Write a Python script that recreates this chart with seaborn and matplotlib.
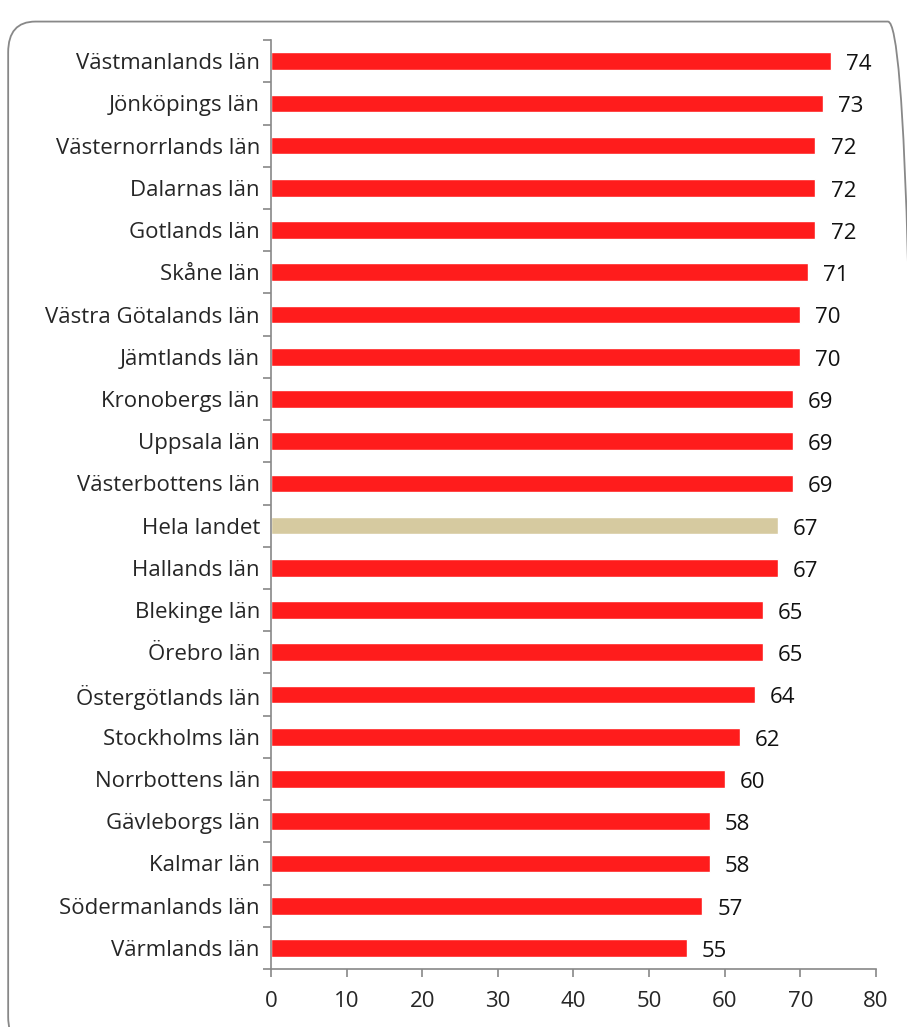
import matplotlib
matplotlib.use("Agg")
import matplotlib.pyplot as plt
import seaborn as sns
import pandas as pd
from matplotlib.patches import FancyBboxPatch

regions = ["Västmanlands län", "Jönköpings län", "Västernorrlands län", "Dalarnas län",
           "Gotlands län", "Skåne län", "Västra Götalands län", "Jämtlands län",
           "Kronobergs län", "Uppsala län", "Västerbottens län", "Hela landet",
           "Hallands län", "Blekinge län", "Örebro län", "Östergötlands län",
           "Stockholms län", "Norrbottens län", "Gävleborgs län", "Kalmar län",
           "Södermanlands län", "Värmlands län"]
values = [74, 73, 72, 72, 72, 71, 70, 70, 69, 69, 69, 67, 67, 65, 65, 64, 62, 60, 58, 58, 57, 55]

df = pd.DataFrame({"region": regions, "value": values})
df["group"] = ["riket" if r == "Hela landet" else "län" for r in regions]

sns.set_style("white")
plt.rcParams["font.family"] = ["Open Sans", "DejaVu Sans"]

fig = plt.figure(figsize=(9.07, 10.27), dpi=100)
ax = fig.add_axes([0.2988, 0.0565, 0.667, 0.9045])

sns.barplot(data=df, x="value", y="region", hue="group", dodge=False,
            palette={"län": "#FF1C1C", "riket": "#D6CAA0"}, width=0.42,
            saturation=1, legend=False, ax=ax)

for i, v in enumerate(values):
    ax.text(v + 2.0, i + 0.08, str(v), va="center", ha="left", fontsize=16, color="#111111")

ax.set_xlim(0, 80)
ax.set_ylim(len(regions) - 0.5, -0.5)
ax.set_xticks(range(0, 81, 10))
ax.set_xlabel("")
ax.set_ylabel("")

# ticks between categories on y axis
ax.set_yticks([i - 0.5 for i in range(len(regions) + 1)], minor=True)
ax.tick_params(axis="y", which="major", left=False, length=0, labelsize=16, pad=8)
ax.tick_params(axis="y", which="minor", left=True, length=6, color="#888888", width=1.2, direction="out")
ax.tick_params(axis="x", bottom=True, length=6, color="#888888", width=1.2, labelsize=16, pad=10, direction="out")

for s in ["top", "right"]:
    ax.spines[s].set_visible(False)
for s in ["left", "bottom"]:
    ax.spines[s].set_color("#888888")
    ax.spines[s].set_linewidth(1.2)

border = FancyBboxPatch((0.009, -0.02), 1.0, 0.999, boxstyle="round,pad=0,rounding_size=0.03",
                        transform=fig.transFigure, fill=False, edgecolor="#888888",
                        linewidth=1.3, clip_on=False)
fig.patches.append(border)

fig.savefig("out.png", dpi=100)
